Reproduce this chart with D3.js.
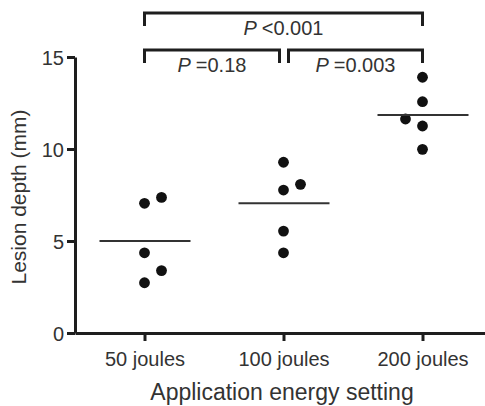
<!DOCTYPE html>
<html>
<head>
<meta charset="utf-8">
<script src="https://cdn.jsdelivr.net/npm/d3@7"></script>
<style>
  body { margin: 0; background: #fff; }
  svg { font-family: "Liberation Sans", Arial, sans-serif; }
  .axis path, .axis line { stroke: #1e1e1e; stroke-width: 3; }
  .axis text { font-size: 20px; fill: #333; }
</style>
</head>
<body>
<div id="chart"></div>
<script>
// data
var groups = ["50 joules", "100 joules", "200 joules"];
var values50 = [7.05, 7.37, 4.36, 3.39, 2.73];
var values100 = [9.28, 8.08, 7.77, 5.54, 4.36];
var values200 = [13.9, 12.57, 11.63, 11.25, 9.98];
// small side offsets for overlapping dots (0 = centred, 1 = shifted right, -1 = left)
var jitter50 = [0, 1, 0, 1, 0];
var jitter100 = [0, 1, 0, 0, 0];
var jitter200 = [0, 0, -1, 0, 0];
var means = [5.0, 7.05, 11.85];
var yTicks = [0, 5, 10, 15];
var comparisons = [
  { from: 0, to: 2, label: "<0.001", level: 1 },
  { from: 0, to: 1, label: "=0.18", level: 0 },
  { from: 1, to: 2, label: "=0.003", level: 0 }
];

var width = 485, height = 406;
var svg = d3.select("#chart").append("svg")
  .attr("width", width)
  .attr("height", height);

var x = d3.scalePoint()
  .domain(groups)
  .range([75, 492])
  .padding(0.5);

var y = d3.scaleLinear()
  .domain([0, 15])
  .range([333, 57]);

// axes
var xAxis = d3.axisBottom(x).tickSize(8).tickSizeOuter(0);
var yAxis = d3.axisLeft(y).tickValues(yTicks).tickSize(8).tickSizeOuter(0).tickPadding(3);

svg.append("g")
  .attr("class", "axis xAxis")
  .attr("transform", "translate(0," + y(0) + ")")
  .call(xAxis);

svg.append("g")
  .attr("class", "axis yAxis")
  .attr("transform", "translate(75,0)")
  .call(yAxis);

svg.selectAll(".xAxis text").attr("y", 33).attr("dy", 0);
svg.selectAll(".yAxis text").attr("dy", "0.36em");

// axis titles
svg.append("text")
  .attr("x", 282)
  .attr("y", 400)
  .attr("text-anchor", "middle")
  .style("font-size", "23px")
  .style("fill", "#333")
  .text("Application energy setting");

svg.append("text")
  .attr("transform", "translate(26,197)rotate(-90)")
  .attr("text-anchor", "middle")
  .style("font-size", "21px")
  .style("fill", "#333")
  .text("Lesion depth (mm)");

// points
var series = [values50, values100, values200];
var jitters = [jitter50, jitter100, jitter200];
var points = [];
series.forEach(function(vals, i) {
  vals.forEach(function(v, j) {
    points.push({ group: groups[i], value: v, shift: jitters[i][j] });
  });
});

svg.selectAll("circle.dot")
  .data(points)
  .enter()
  .append("circle")
  .attr("class", "dot")
  .attr("cx", function(d) { return x(d.group) + d.shift * 17; })
  .attr("cy", function(d) { return y(d.value); })
  .attr("r", 5.4)
  .style("fill", "#111");

// mean lines
svg.selectAll("line.mean")
  .data(means)
  .enter()
  .append("line")
  .attr("class", "mean")
  .attr("x1", function(d, i) { return x(groups[i]) - 45; })
  .attr("x2", function(d, i) { return x(groups[i]) + 46; })
  .attr("y1", function(d) { return y(d); })
  .attr("y2", function(d) { return y(d); })
  .style("stroke", "#333")
  .style("stroke-width", 2);

// significance brackets
var bracketY = [50, 13];
comparisons.forEach(function(c) {
  var x1 = x(groups[c.from]);
  var x2 = x(groups[c.to]);
  if (c.level === 0 && c.from === 0) x2 -= 4;
  if (c.level === 0 && c.from === 1) x1 += 5;
  var top = bracketY[c.level];
  svg.append("path")
    .attr("d", "M" + x1 + "," + (top + 13) + "V" + top + "H" + x2 + "V" + (top + 13))
    .style("fill", "none")
    .style("stroke", "#1e1e1e")
    .style("stroke-width", 3);
  var t = svg.append("text")
    .attr("x", (x1 + x2) / 2)
    .attr("y", top + 22)
    .attr("text-anchor", "middle")
    .style("font-size", "20px")
    .style("fill", "#333");
  t.append("tspan").style("font-style", "italic").text("P ");
  t.append("tspan").text(c.label);
});
</script>
</body>
</html>
